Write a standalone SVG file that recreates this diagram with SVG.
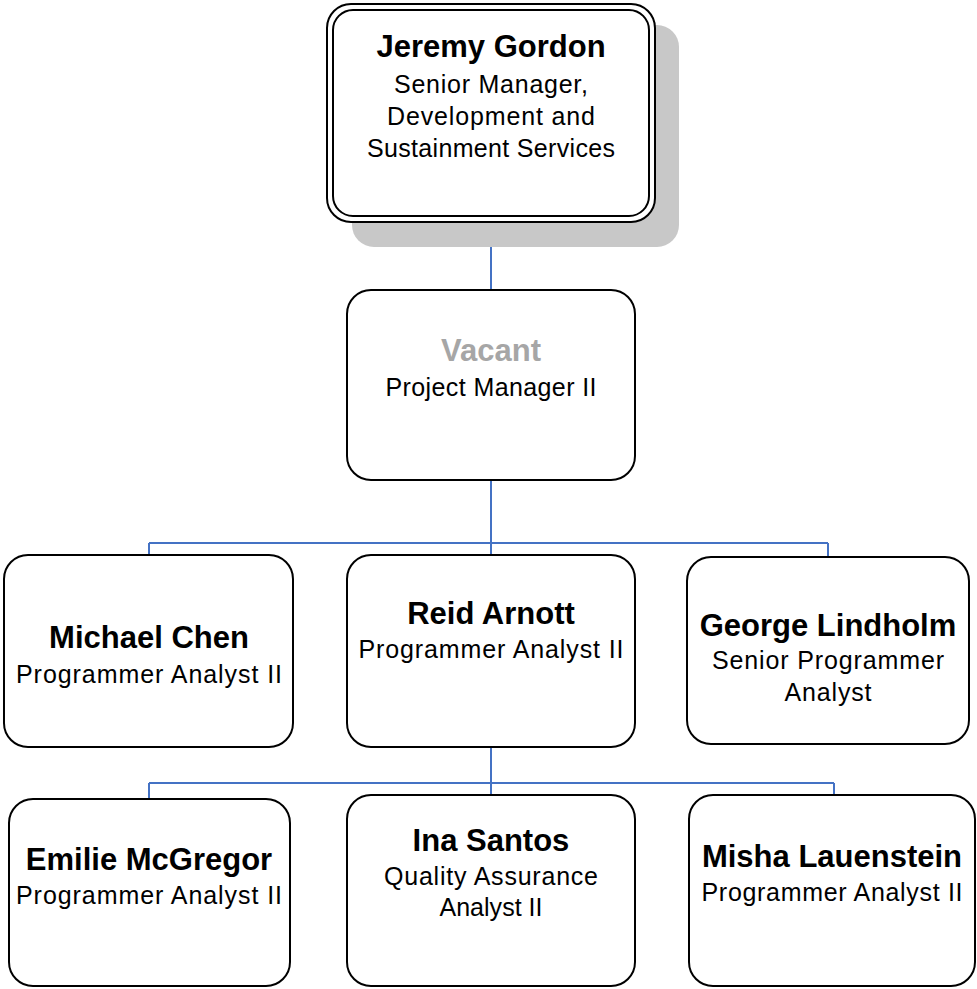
<svg xmlns="http://www.w3.org/2000/svg" width="977" height="989" viewBox="0 0 977 989">
<style>
.box{fill:#fff;stroke:#000;stroke-width:2}
.name{font-family:"Liberation Sans",Arial,sans-serif;font-weight:bold;font-size:31px;fill:#000;text-anchor:middle}
.vac{fill:#a6a6a6}
.sub{font-family:"Liberation Sans",Arial,sans-serif;font-size:25px;fill:#000;text-anchor:middle}
.conn{fill:none;stroke:#4472c4;stroke-width:2}
</style>
<rect width="977" height="989" fill="#fff"/>
<g id="connectors">
<path class="conn" d="M491,222V290"/>
<path class="conn" d="M491,480V555M149,543H828M149,543V555M828,543V557"/>
<path class="conn" d="M491,747V795M149,783H834M149,783V800M834,783V795"/>
</g>
<g id="jeremy">
<rect x="352" y="25" width="327" height="222" rx="22" fill="#c8c8c8"/>
<rect class="box" x="327" y="4" width="328" height="218" rx="24"/>
<rect class="box" x="333" y="10" width="316" height="206" rx="20"/>
<text class="name" x="491" y="57">Jeremy Gordon</text>
<text class="sub" x="491" y="93" textLength="194" lengthAdjust="spacing">Senior Manager,</text>
<text class="sub" x="491" y="125" textLength="208" lengthAdjust="spacing">Development and</text>
<text class="sub" x="491" y="157" textLength="248" lengthAdjust="spacing">Sustainment Services</text>
</g>
<g id="vacant">
<rect class="box" x="347" y="290" width="288" height="190" rx="24"/>
<text class="name vac" x="491" y="361">Vacant</text>
<text class="sub" x="491" y="396" textLength="211" lengthAdjust="spacing">Project Manager II</text>
</g>
<g id="michael">
<rect class="box" x="4" y="555" width="289" height="192" rx="24"/>
<text class="name" x="149" y="648">Michael Chen</text>
<text class="sub" x="149" y="683" textLength="266" lengthAdjust="spacing">Programmer Analyst II</text>
</g>
<g id="reid">
<rect class="box" x="347" y="555" width="288" height="192" rx="24"/>
<text class="name" x="491" y="624">Reid Arnott</text>
<text class="sub" x="491" y="658" textLength="265" lengthAdjust="spacing">Programmer Analyst II</text>
</g>
<g id="george">
<rect class="box" x="687" y="557" width="282" height="187" rx="24"/>
<text class="name" x="828" y="636">George Lindholm</text>
<text class="sub" x="828" y="669" textLength="232" lengthAdjust="spacing">Senior Programmer</text>
<text class="sub" x="828" y="701" textLength="87" lengthAdjust="spacing">Analyst</text>
</g>
<g id="emilie">
<rect class="box" x="9" y="799" width="281" height="187" rx="24"/>
<text class="name" x="149" y="870">Emilie McGregor</text>
<text class="sub" x="149" y="904" textLength="266" lengthAdjust="spacing">Programmer Analyst II</text>
</g>
<g id="ina">
<rect class="box" x="347" y="795" width="288" height="191" rx="24"/>
<text class="name" x="491" y="851">Ina Santos</text>
<text class="sub" x="491" y="885" textLength="214" lengthAdjust="spacing">Quality Assurance</text>
<text class="sub" x="491" y="916" textLength="103" lengthAdjust="spacing">Analyst II</text>
</g>
<g id="misha">
<rect class="box" x="689" y="795" width="286" height="191" rx="24"/>
<text class="name" x="832" y="867">Misha Lauenstein</text>
<text class="sub" x="832" y="901" textLength="261" lengthAdjust="spacing">Programmer Analyst II</text>
</g>
</svg>
